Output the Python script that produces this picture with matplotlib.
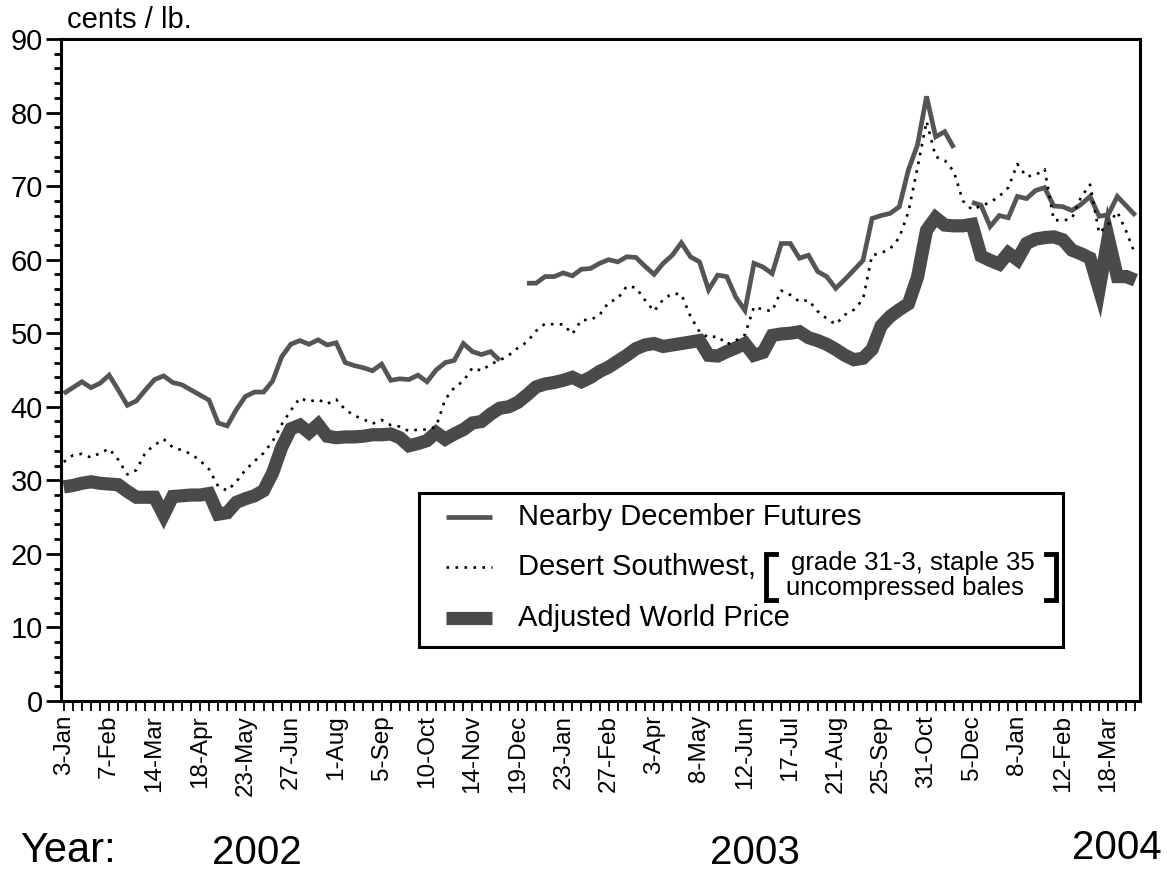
import numpy as np
import matplotlib.pyplot as plt
from matplotlib.lines import Line2D
from matplotlib.patches import Rectangle

W, H = 1167, 871

# weekly tick labels (every 5th week, starting 3-Jan-2002)
week_labels = ["3-Jan", "7-Feb", "14-Mar", "18-Apr", "23-May", "27-Jun", "1-Aug",
               "5-Sep", "10-Oct", "14-Nov", "19-Dec", "23-Jan", "27-Feb", "3-Apr",
               "8-May", "12-Jun", "17-Jul", "21-Aug", "25-Sep", "31-Oct", "5-Dec",
               "8-Jan", "12-Feb", "18-Mar"]
years = ["2002", "2003", "2004"]

# cents / lb., weekly (nan = gap when contract rolls)
futures = [41.8, 42.6, 43.4, 42.6, 43.2, 44.3, 42.3, 40.2, 40.8, 42.3,
           43.7, 44.2, 43.3, 43.0, 42.3, 41.6, 40.9, 37.8, 37.4, 39.6,
           41.4, 42.0, 42.0, 43.5, 46.8, 48.5, 49.0, 48.5, 49.1, 48.4,
           48.7, 46.0, 45.6, 45.3, 44.9, 45.8, 43.6, 43.8, 43.7, 44.3,
           43.4, 45.0, 46.0, 46.3, 48.6, 47.5, 47.1, 47.5, 46.3, np.nan,
           np.nan, 56.8, 56.8, 57.7, 57.7, 58.2, 57.8, 58.7, 58.8, 59.5,
           60.0, 59.7, 60.4, 60.3, 59.1, 58.0, 59.5, 60.6, 62.3, 60.4,
           59.7, 55.9, 57.9, 57.7, 54.9, 53.1, 59.5, 59.0, 58.1, 62.2,
           62.2, 60.2, 60.6, 58.4, 57.7, 56.1, 57.3, 58.6, 59.9, 65.6,
           66.0, 66.3, 67.2, 72.2, 75.6, 82.2, 76.7, 77.4, 75.2, np.nan,
           67.8, 67.4, 64.5, 66.0, 65.7, 68.6, 68.3, 69.4, 69.8, 67.3,
           67.2, 66.7, 67.5, 68.6, 65.9, 66.1, 68.6, 67.3, 66.0]

desert_sw = [32.5, 33.4, 33.6, 33.1, 33.7, 34.3, 32.8, 30.8, 31.4, 33.8,
             34.8, 35.6, 34.5, 34.1, 33.6, 32.7, 31.5, 29.2, 28.6, 29.8,
             31.4, 32.6, 33.7, 35.3, 37.6, 39.5, 41.2, 40.7, 41.0, 40.4,
             41.0, 39.6, 38.8, 38.3, 37.7, 38.2, 37.5, 37.3, 36.7, 36.9,
             36.9, 37.3, 41.0, 42.6, 43.5, 45.3, 44.9, 45.8, 46.3, 47.0,
             48.0, 48.8, 50.3, 51.3, 51.2, 51.2, 49.9, 51.8, 51.8, 52.5,
             54.2, 54.7, 56.4, 56.2, 54.5, 53.0, 54.6, 55.4, 55.3, 52.3,
             50.2, 49.4, 49.6, 48.5, 49.0, 49.8, 53.6, 53.2, 53.0, 55.8,
             55.2, 54.3, 54.5, 53.0, 52.0, 51.2, 52.5, 53.2, 54.6, 60.6,
             60.9, 61.5, 63.0, 66.5, 72.5, 78.8, 74.0, 73.5, 72.0, 68.0,
             66.8, 67.3, 67.8, 68.6, 69.8, 73.0, 71.3, 71.5, 72.3, 65.4,
             65.3, 65.6, 68.5, 70.2, 63.6, 64.8, 66.5, 63.8, 60.6]

awp = [29.1, 29.3, 29.6, 29.8, 29.6, 29.5, 29.4, 28.5, 27.7, 27.7,
       27.7, 25.3, 27.8, 27.9, 28.0, 28.0, 28.2, 25.4, 25.6, 27.0,
       27.5, 27.9, 28.6, 31.0, 34.5, 37.0, 37.5, 36.5, 37.6, 36.0,
       35.8, 35.9, 35.9, 36.0, 36.2, 36.2, 36.3, 35.8, 34.7, 35.0,
       35.4, 36.5, 35.6, 36.3, 36.9, 37.8, 38.0, 39.0, 39.8, 40.0,
       40.6, 41.6, 42.7, 43.1, 43.3, 43.6, 44.0, 43.4, 44.0, 44.8,
       45.4, 46.2, 47.0, 47.9, 48.4, 48.6, 48.2, 48.4, 48.6, 48.8,
       49.0, 47.0, 46.9, 47.5, 48.0, 48.6, 47.0, 47.4, 49.7, 49.9,
       50.0, 50.2, 49.4, 49.0, 48.5, 47.8, 47.0, 46.4, 46.6, 47.8,
       51.0, 52.3, 53.2, 54.0, 57.6, 64.0, 65.7, 64.7, 64.6, 64.6,
       64.8, 60.5, 59.9, 59.4, 60.9, 60.0, 62.2, 62.8, 63.0, 63.1,
       62.7, 61.3, 60.8, 60.2, 56.0, 63.0, 57.7, 57.7, 57.2]

plt.rcParams['font.family'] = ['Liberation Sans', 'DejaVu Sans']

def fx(px):
    return px / W

def fy(py):
    return 1 - py / H

fig = plt.figure(figsize=(W / 100, H / 100), dpi=100)
ax = fig.add_axes([fx(61), fy(701), fx(1140) - fx(61), fy(39) - fy(701)])

weeks = np.arange(len(awp))
ax.plot(weeks, awp, color='#4a4a4a', lw=9.5,
        solid_joinstyle='miter', solid_capstyle='butt')
ax.plot(weeks, futures, color='#555555', lw=3.4,
        solid_joinstyle='miter', solid_capstyle='butt')
ax.plot(weeks, desert_sw, color='black', lw=1.9, linestyle=(0, (1, 2.4)))

ax.set_xlim(-0.3, 118.5)
ax.set_ylim(0, 90)
ax.set_yticks(range(0, 91, 10))
ax.set_yticks(range(0, 91, 2), minor=True)
ax.set_xticks(range(0, 5 * len(week_labels), 5))
ax.set_xticklabels(week_labels, rotation=90)
ax.set_xticks(weeks, minor=True)

ax.tick_params(axis='y', which='major', direction='out', length=11, width=2,
               labelsize=21, pad=2)
ax.tick_params(axis='y', which='minor', direction='out', length=5, width=2)
ax.tick_params(axis='x', which='both', direction='out', length=7, width=1.3,
               labelsize=17.5, pad=3)
for s in ax.spines.values():
    s.set_linewidth(2.2)

fig.text(fx(67), fy(20), "cents / lb.", fontsize=21, ha='left', va='center')

# year row
fig.text(fx(68), fy(851), "Year:", fontsize=30, ha='center', va='center')
fig.text(fx(257), fy(853), years[0], fontsize=29, ha='center', va='center')
fig.text(fx(755), fy(853), years[1], fontsize=29, ha='center', va='center')
fig.text(fx(1117), fy(848), years[2], fontsize=29, ha='center', va='center')

# legend box
box = Rectangle((fx(419), fy(647)), fx(1063) - fx(419), fy(493) - fy(647),
                transform=fig.transFigure, facecolor='white', edgecolor='black',
                lw=2.2, zorder=5)
fig.add_artist(box)

rows = [517, 567, 618]
fig.add_artist(Line2D([fx(446), fx(492)], [fy(rows[0])] * 2, color='#555555',
                      lw=3.4, solid_capstyle='butt', zorder=6))
fig.add_artist(Line2D([fx(446), fx(492)], [fy(rows[1])] * 2, color='black',
                      lw=1.9, linestyle=(0, (1, 2.4)), zorder=6))
fig.add_artist(Line2D([fx(446), fx(492)], [fy(rows[2])] * 2, color='#4a4a4a',
                      lw=9.5, solid_capstyle='butt', zorder=6))

fig.text(fx(518), fy(rows[0]), "Nearby December Futures", fontsize=21,
         ha='left', va='center', zorder=7)
fig.text(fx(518), fy(rows[1]), "Desert Southwest,", fontsize=21,
         ha='left', va='center', zorder=7)
fig.text(fx(518), fy(rows[2]), "Adjusted World Price", fontsize=21,
         ha='left', va='center', zorder=7)

fig.text(fx(913), fy(563), "grade 31-3, staple 35", fontsize=18.5,
         ha='center', va='center', zorder=7)
fig.text(fx(905), fy(588), "uncompressed bales", fontsize=18.5,
         ha='center', va='center', zorder=7)

# brackets around the grade description
for xa, xb in [(776, 766), (1046, 1056)]:
    fig.add_artist(Line2D([fx(xa), fx(xb), fx(xb), fx(xa)],
                          [fy(554), fy(554), fy(600), fy(600)],
                          color='black', lw=3.5, solid_joinstyle='miter', zorder=7))

fig.savefig("out.png", dpi=100)
